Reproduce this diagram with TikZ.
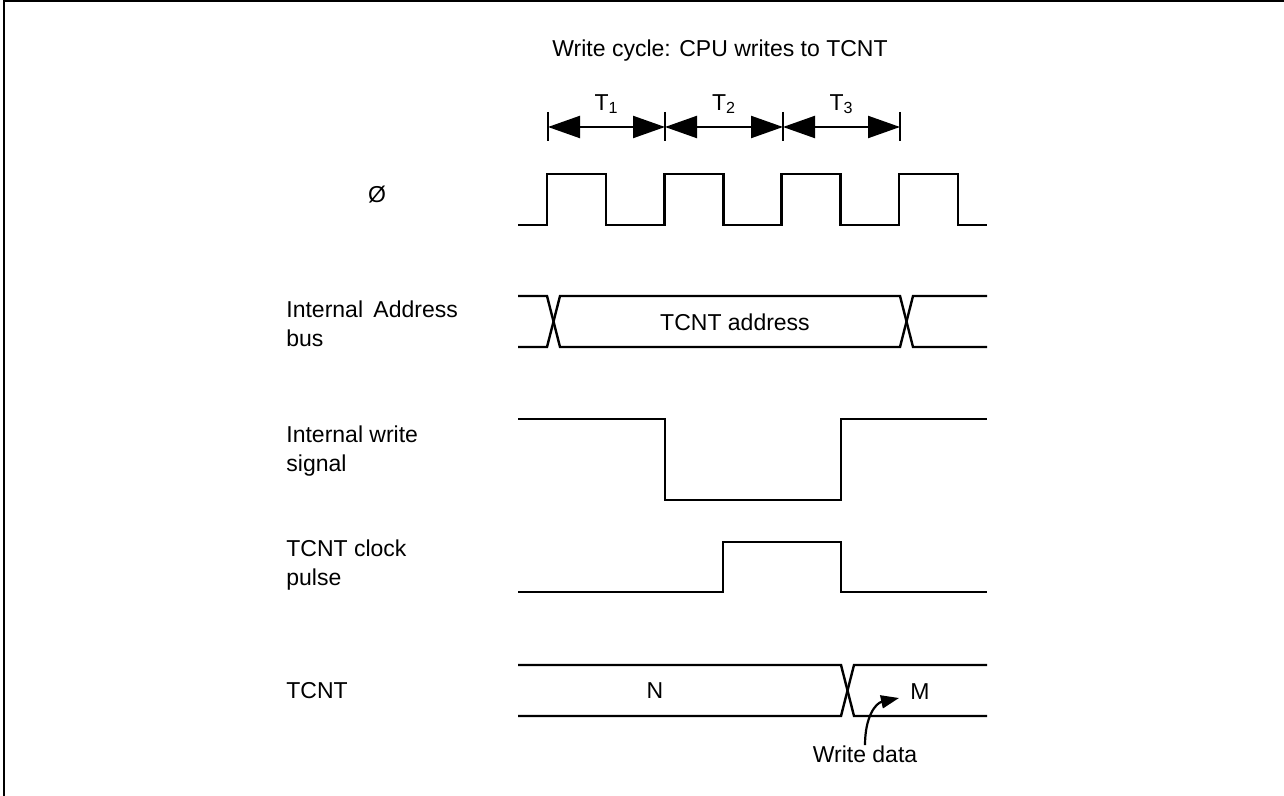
\documentclass[tikz,border=0pt]{standalone}
\usepackage{fontspec}
\setmainfont{Liberation Sans}
\usetikzlibrary{arrows.meta}

\begin{document}
\begin{tikzpicture}[
        x=0.5pt, y=-0.5pt,
        every node/.style={font=\fontsize{11.5}{14.5}\selectfont, inner sep=0pt},
        signal/.style={line width=1.2pt, line join=miter},
        siglabel/.style={anchor=west, align=left},
        tick/.style={line width=1.1pt},
        dimline/.style={line width=1.1pt,
            {Triangle[length=16pt,width=11pt]}-{Triangle[length=16pt,width=11pt]}},
        note/.style={line width=1.1pt, -{Triangle[length=9pt,width=6.5pt]}}
    ]
        \useasboundingbox (0,0) rectangle (1284,796);
        % frame
        \draw[line width=1.1pt] (4,796) -- (4,1) -- (1284,1);

        % title and cycle marks
        \node (title) at (720,51) {Write cycle: CPU writes to TCNT};
        \foreach \x [count=\i from 0] in {548,665,783,900} {
            \coordinate (t\i) at (\x,127);
            \draw[tick] (\x,112) -- (\x,141);
        }
        \draw[dimline] (t0) -- node[above=6pt] (T1) {T\textsubscript{1}} (t1);
        \draw[dimline] (t1) -- node[above=6pt] (T2) {T\textsubscript{2}} (t2);
        \draw[dimline] (t2) -- node[above=6pt] (T3) {T\textsubscript{3}} (t3);

        % signal names
        \node (phi) at (377,195) {Ø};
        \node[siglabel] (addr) at (286,324) {Internal\hspace{0.45em}Address\\bus};
        \node[siglabel] (wr) at (286,451) {Internal write\\signal};
        \node[siglabel] (clk) at (286,565) {TCNT clock\\pulse};
        \node[siglabel] (tcnt) at (286,691) {TCNT};

        % system clock
        \draw[signal] (518,225)
            \foreach \k in {0,...,3} {
                -- ({547+117.33*\k},225) -- ({547+117.33*\k},174)
                -- ({606+117.33*\k},174) -- ({606+117.33*\k},225)
            } -- (987,225);

        % internal address bus
        \draw[signal] (518,296) -- (547,296) -- (560,347) -- (900,347) -- (913,296) -- (987,296);
        \draw[signal] (518,347) -- (547,347) -- (560,296) -- (900,296) -- (913,347) -- (987,347);
        \node (addrval) at (735,322) {TCNT address};

        % internal write signal
        \draw[signal] (518,419) -- (665,419) -- (665,500) -- (841,500) -- (841,419) -- (987,419);

        % TCNT clock pulse
        \draw[signal] (518,592) -- (723,592) -- (723,542) -- (841,542) -- (841,592) -- (987,592);

        % TCNT
        \draw[signal] (518,665) -- (841,665) -- (854,716) -- (987,716);
        \draw[signal] (518,716) -- (841,716) -- (854,665) -- (987,665);
        \node (valN) at (655,691) {N};
        \node (valM) at (920,692) {M};

        % write data note
        \node (wdata) at (865,754) {Write data};
        \coordinate (wtip) at (899,698);
        \draw[note] (wdata.north) .. controls (865,716) and (876,703) .. (wtip);
    \end{tikzpicture}
\end{document}
